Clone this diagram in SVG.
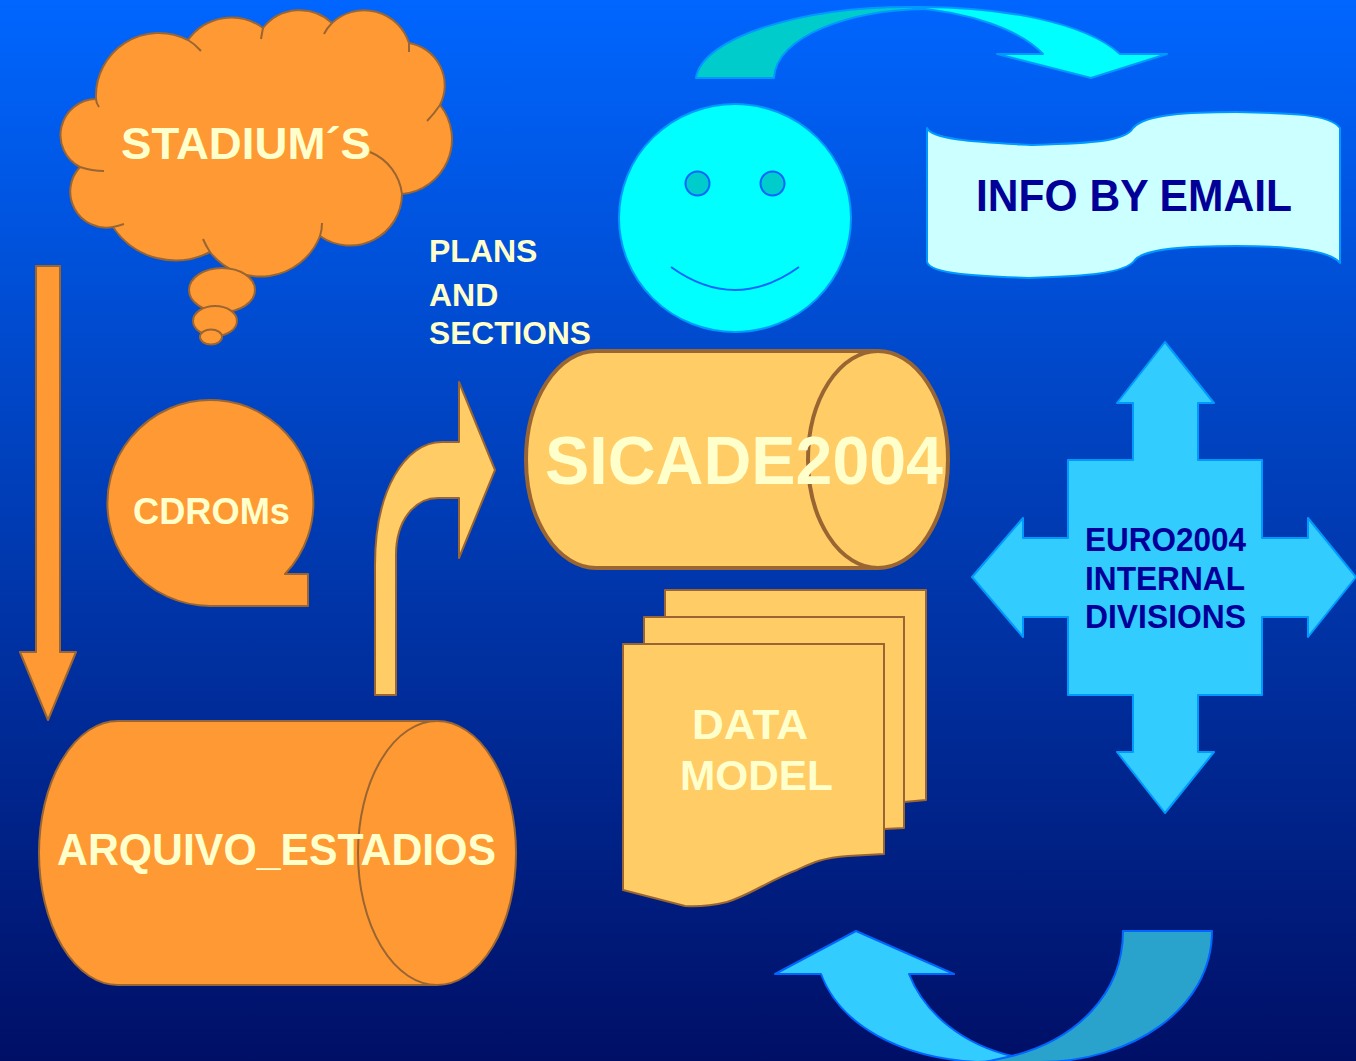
<svg xmlns="http://www.w3.org/2000/svg" width="1356" height="1061" viewBox="0 0 1356 1061">
<defs><linearGradient id="bg" x1="0" y1="0" x2="0" y2="1"><stop offset="0" stop-color="#0066ff"/><stop offset="1" stop-color="#000f66"/></linearGradient></defs>
<style>
text{font-family:"Liberation Sans",Arial,sans-serif;font-weight:bold;fill:#ffffcc}
.o{fill:#ff9933;stroke:#996633;stroke-width:2;stroke-linejoin:round}
.y{fill:#ffcc66;stroke:#996633;stroke-width:2;stroke-linejoin:round}
.l{fill:none;stroke:#996633;stroke-width:2}
.c{stroke:#0099ff;stroke-width:2;stroke-linejoin:round}
.b{stroke:#0066ff;stroke-width:2;stroke-linejoin:round}
.n{fill:#000099}
</style>
<rect width="1356" height="1061" fill="url(#bg)"/>
<g id="connectors">
<path class="o" d="M36,266H60V652H76L48,720L20,652H36Z"/>
<path class="y" d="M375,695V565C375,490 405,442 442,442H459V382L495,470L459,558V498H438C415,498 396,520 396,555V695Z"/>
<path class="c" fill="#00cccc" d="M696,78C702,38 800,6 915,7L925,9C850,10 776,36 774,78Z"/>
<path class="c" fill="#00ffff" d="M913,7C1000,6 1085,22 1120,54H1167L1091,78L997,54H1043C1020,30 970,12 913,8Z"/>
<path class="b" fill="#33ccff" d="M821,974L775,974L856,931L954,974H909C925,1015 965,1045 1012,1056L1030,1060L977,1062C900,1058 840,1025 821,974Z"/>
<path class="b" fill="#29a3cc" d="M1123,931H1212C1212,1010 1130,1062 1040,1062H985L1012,1056C1075,1040 1123,995 1123,931Z"/>
</g>
<g id="stadiums">
<path class="o" d="M96,99A63,63 0 0 1 188,40A53,53 0 0 1 263,28A47,47 0 0 1 332,23A47,47 0 0 1 409,43A43,43 0 0 1 440,105A55,55 0 0 1 402,194A52,52 0 0 1 320,236A64,64 0 0 1 210,252A75,75 0 0 1 113,227A36,36 0 0 1 80,167A36,36 0 0 1 96,99Z"/>
<path class="l" d="M96,99Q96,103 99,107M188,40Q195,44 201,51M263,28Q262,33 261,39M332,23Q327,28 324,34M409,43V52M440,105Q434,114 427,121M370,152A52,52 0 0 1 402,194M322,223Q322,230 320,236M210,252Q206,246 203,239M113,227Q118,226 124,224M80,167Q92,171 104,171"/>
<ellipse class="o" cx="222" cy="290" rx="33" ry="22"/>
<ellipse class="o" cx="215" cy="321" rx="22" ry="15"/>
<ellipse class="o" cx="211" cy="337" rx="11" ry="7.500"/>
<text x="121" y="159" font-size="45" textLength="250" lengthAdjust="spacingAndGlyphs">STADIUM´S</text>
</g>
<g id="cdroms">
<path class="o" d="M210,606A103,103 0 1 1 285,574H308V606Z"/>
<text x="133" y="524" font-size="36" textLength="157" lengthAdjust="spacingAndGlyphs">CDROMs</text>
</g>
<g id="arquivo">
<path class="o" d="M118,721H437A79,132 0 0 1 437,985H118A79,132 0 0 1 118,721Z"/>
<path class="l" d="M437,721A79,132 0 0 0 437,985"/>
<text x="57" y="865" font-size="44" textLength="439" lengthAdjust="spacingAndGlyphs">ARQUIVO_ESTADIOS</text>
</g>
<g id="plans">
<text x="429" y="262" font-size="32">PLANS</text>
<text x="429" y="306" font-size="32">AND</text>
<text x="429" y="344" font-size="32" textLength="162" lengthAdjust="spacingAndGlyphs">SECTIONS</text>
</g>
<g id="sicade">
<path class="y" style="stroke-width:4" d="M596,351H878A70,108.500 0 0 1 878,568H596A70,108.500 0 0 1 596,351Z"/>
<path class="l" style="stroke-width:4" d="M878,351A70,108.500 0 0 0 878,568"/>
<text x="545" y="484" font-size="68" textLength="398" lengthAdjust="spacingAndGlyphs">SICADE2004</text>
</g>
<g id="datamodel">
<path class="y" d="M665,590H926V800L904,802V617H665Z"/>
<path class="y" d="M644,617H904V828L884,829V644H644Z"/>
<path class="y" d="M623,644H884V854L848,856C820,858 810,864 797,870C770,880 750,895 727,902C710,906 697,907 685,906L623,890Z"/>
<text x="692" y="739" font-size="42" textLength="116" lengthAdjust="spacingAndGlyphs">DATA</text>
<text x="680" y="790" font-size="42" textLength="153" lengthAdjust="spacingAndGlyphs">MODEL</text>
</g>
<g id="smiley">
<ellipse class="c" fill="#00ffff" cx="735" cy="218" rx="116" ry="114"/>
<ellipse class="b" fill="#00cccc" cx="697.500" cy="183.500" rx="12" ry="12"/>
<ellipse class="b" fill="#00cccc" cx="772.500" cy="183.500" rx="12" ry="12"/>
<path class="b" fill="none" d="M671,267Q735,313 799,267"/>
</g>
<g id="email">
<path class="c" fill="#ccffff" d="M927,128C932,140 980,142 1031,145C1090,143 1125,142 1133,128C1145,114 1190,112 1236,112C1290,113 1330,114 1340,128V263C1330,250 1290,246 1236,246C1190,246 1145,248 1135,260C1125,274 1085,276 1029,278C975,276 930,274 927,262Z"/>
<text class="n" x="976" y="211" font-size="44" textLength="316" lengthAdjust="spacingAndGlyphs">INFO BY EMAIL</text>
</g>
<g id="divisions">
<path class="c" fill="#33ccff" d="M1133,460V403H1117L1165,342L1214,403H1198V460H1262V538H1308V518L1356,577L1308,637V617H1262V695H1198V752H1214L1165,813L1117,752H1133V695H1068V617H1023V637L972,577L1023,518V538H1068V460Z"/>
<text class="n" x="1085" y="551" font-size="33" textLength="161" lengthAdjust="spacingAndGlyphs">EURO2004</text>
<text class="n" x="1085" y="590" font-size="33" textLength="160" lengthAdjust="spacingAndGlyphs">INTERNAL</text>
<text class="n" x="1085" y="628" font-size="33" textLength="161" lengthAdjust="spacingAndGlyphs">DIVISIONS</text>
</g>
</svg>
